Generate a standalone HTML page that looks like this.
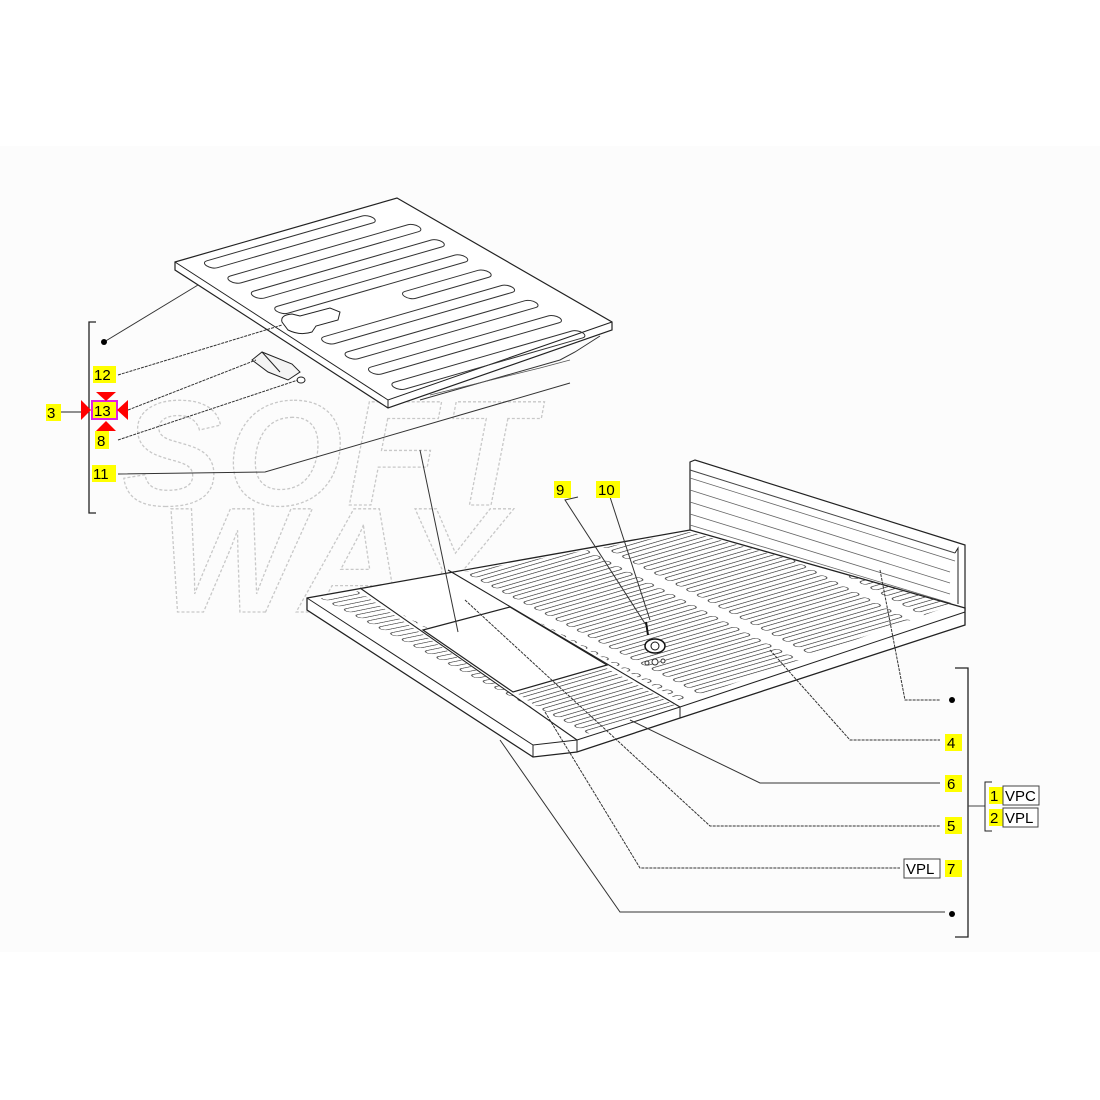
<!DOCTYPE html>
<html><head><meta charset="utf-8"><style>
html,body{margin:0;padding:0;background:#fff;}
svg{display:block;}
text{font-family:"Liberation Sans",sans-serif;}
</style></head><body>
<svg width="1100" height="1100" viewBox="0 0 1100 1100" xmlns="http://www.w3.org/2000/svg">
<defs>
<pattern id="slotStrip" width="400" height="13" patternUnits="userSpaceOnUse" patternTransform="matrix(0.98,-0.2,0.89,0.46,307,598)">
<rect x="10" y="3" width="36" height="7" rx="3.5" fill="none" stroke="#333" stroke-width="0.9"/>
</pattern>
<pattern id="slotMain" width="125" height="12" patternUnits="userSpaceOnUse" patternTransform="matrix(0.96,-0.28,0.89,0.46,448,570)">
<rect x="8" y="3" width="110" height="6.5" rx="3.2" fill="none" stroke="#333" stroke-width="0.9"/>
</pattern>
<clipPath id="mainC"><polygon points="452,574 690,532 955,604 682,702"/></clipPath>
<clipPath id="stripC"><polygon points="312,600 358,591 573,735 535,750"/></clipPath>
<clipPath id="midC"><polygon points="364,592 445,575 508,610 425,628"/></clipPath>
<clipPath id="frontC"><polygon points="517,693 606,668 676,706 580,736"/></clipPath>
</defs>
<rect x="0" y="146" width="1100" height="806" fill="#fcfcfc"/>

<!-- watermark -->
<g fill="none" stroke="#c8c8c8" stroke-width="1.3" stroke-dasharray="3 2" font-weight="bold" font-style="italic" font-size="150">
<text x="122" y="505" letter-spacing="4">SOFT</text>
<text x="160" y="612" letter-spacing="6">WAY</text>
</g>

<!-- lid -->
<polygon points="175,262 397,198 612,322 612,330 388,408 175,270" fill="#fff" stroke="#222" stroke-width="1.2"/>
<polyline points="175,262 388,400 612,322" fill="none" stroke="#222" stroke-width="1"/>
<line x1="388" y1="400" x2="388" y2="408" stroke="#222"/>
<path d="M420,400 L560,360 L575,352 L600,336" fill="none" stroke="#333" stroke-width="1"/>
<path d="M430,395 L540,368 L570,360" fill="none" stroke="#555" stroke-width="0.8"/>
<g transform="matrix(2.22,-0.64,2.13,1.38,175,262)" fill="none" stroke="#333" stroke-width="1">
<rect x="8" y="4" width="75" height="5" rx="2.5" vector-effect="non-scaling-stroke"/>
<rect x="8" y="15" width="85" height="5" rx="2.5" vector-effect="non-scaling-stroke"/>
<rect x="8" y="26" width="85" height="5" rx="2.5" vector-effect="non-scaling-stroke"/>
<rect x="8" y="37" width="85" height="5" rx="2.5" vector-effect="non-scaling-stroke"/>
<rect x="55" y="48" width="38" height="5" rx="2.5" vector-effect="non-scaling-stroke"/>
<rect x="8" y="59" width="85" height="5" rx="2.5" vector-effect="non-scaling-stroke"/>
<rect x="8" y="70" width="85" height="5" rx="2.5" vector-effect="non-scaling-stroke"/>
<rect x="8" y="81" width="85" height="5" rx="2.5" vector-effect="non-scaling-stroke"/>
<rect x="8" y="92" width="85" height="5" rx="2.5" vector-effect="non-scaling-stroke"/>
</g>
<path d="M282,322 Q280,315 292,314 L300,316 L330,308 L340,312 L338,320 L316,326 L312,332 Q300,336 288,330 Z" fill="#fff" stroke="#222" stroke-width="1"/>
<path d="M252,360 L262,352 L292,364 L300,372 L288,380 L268,372 Z" fill="#f4f4f4" stroke="#222" stroke-width="1"/>
<line x1="262" y1="352" x2="280" y2="372" stroke="#222"/>
<ellipse cx="301" cy="380" rx="4" ry="3" fill="#fff" stroke="#222"/>

<!-- wall -->
<polygon points="690,462 695,460 965,545 965,610 950,606 690,535" fill="#fff" stroke="#222" stroke-width="1.2"/>
<line x1="690" y1="470" x2="955" y2="553" stroke="#444"/>
<line x1="690" y1="478" x2="955" y2="561" stroke="#666" stroke-width="0.8"/>
<line x1="690" y1="490" x2="950" y2="572" stroke="#666" stroke-width="0.8"/>
<line x1="690" y1="502" x2="950" y2="583" stroke="#666" stroke-width="0.8"/>
<line x1="690" y1="514" x2="950" y2="594" stroke="#666" stroke-width="0.8"/>
<line x1="690" y1="525" x2="950" y2="603" stroke="#666" stroke-width="0.8"/>
<polyline points="955,553 958,548 958,604" fill="none" stroke="#222"/>

<!-- floor slab -->
<polygon points="307,598 690,530 965,608 965,625 680,718 577,752 533,757 307,610" fill="#fff" stroke="#222" stroke-width="1.3"/>
<polyline points="307,598 533,745 577,740 680,707 965,612" fill="none" stroke="#222" stroke-width="1"/>
<line x1="533" y1="745" x2="533" y2="757" stroke="#222"/>
<line x1="577" y1="740" x2="577" y2="752" stroke="#222"/>
<line x1="680" y1="707" x2="680" y2="718" stroke="#222"/>
<rect x="0" y="0" width="1100" height="1100" fill="url(#slotMain)" clip-path="url(#mainC)"/>
<rect x="0" y="0" width="1100" height="1100" fill="url(#slotStrip)" clip-path="url(#stripC)"/>
<rect x="0" y="0" width="1100" height="1100" fill="url(#slotStrip)" clip-path="url(#midC)"/>
<rect x="0" y="0" width="1100" height="1100" fill="url(#slotMain)" clip-path="url(#frontC)"/>
<!-- hole -->
<polygon points="423,630 510,607 607,665 513,692" fill="#fff" stroke="#222" stroke-width="1.2"/>
<line x1="360" y1="588" x2="577" y2="740" stroke="#222" stroke-width="1.1"/>
<line x1="448" y1="570" x2="680" y2="707" stroke="#222" stroke-width="1.1"/>
<!-- fitting -->
<line x1="646" y1="622" x2="648" y2="635" stroke="#111" stroke-width="2"/>
<ellipse cx="655" cy="646" rx="10" ry="7" fill="#fff" stroke="#111" stroke-width="1.5"/>
<circle cx="655" cy="646" r="4" fill="#fff" stroke="#111"/>
<circle cx="655" cy="662" r="3" fill="#fff" stroke="#333"/>
<circle cx="647" cy="663" r="2" fill="#fff" stroke="#333"/>
<circle cx="663" cy="661" r="2" fill="#fff" stroke="#333"/>

<!-- leader lines -->
<g fill="none" stroke="#333" stroke-width="1">
<line x1="104" y1="342" x2="198" y2="285"/>
<line x1="118" y1="375" x2="282" y2="325" stroke-dasharray="3 1"/>
<line x1="128" y1="410" x2="256" y2="360" stroke-dasharray="3 1"/>
<line x1="118" y1="440" x2="298" y2="380" stroke-dasharray="3 1"/>
<polyline points="118,474 265,472 570,383"/>
<polyline points="420,450 458,632"/>
<polyline points="578,497 565,500 646,625"/>
<polyline points="598,492 610,497 650,620"/>
<polyline points="880,570 905,700 940,700" stroke-dasharray="3 1"/>
<polyline points="770,650 850,740 940,740" stroke-dasharray="3 1"/>
<polyline points="630,720 760,783 940,783"/>
<polyline points="465,600 710,826 940,826" stroke-dasharray="3 1"/>
<polyline points="545,712 640,868 900,868" stroke-dasharray="3 1"/>
<polyline points="500,740 620,912 945,912"/>
</g>

<polyline points="96,322 89,322 89,513 96,513" fill="none" stroke="#222" stroke-width="1.3"/>
<line x1="60" y1="412" x2="83" y2="412" stroke="#222"/>
<circle cx="104" cy="342" r="3" fill="#000"/>
<polyline points="955,668 968,668 968,937 955,937" fill="none" stroke="#222" stroke-width="1.3"/>
<line x1="968" y1="806" x2="985" y2="806" stroke="#444"/>
<polyline points="992,782 985,782 985,831 992,831" fill="none" stroke="#222"/>
<circle cx="952" cy="700" r="3" fill="#000"/>
<circle cx="952" cy="914" r="3" fill="#000"/>

<g fill="#ffff00">
<rect x="93" y="366" width="23" height="17"/>
<rect x="93" y="402" width="24" height="17"/>
<rect x="46" y="404" width="15" height="17"/>
<rect x="95" y="431" width="14" height="18"/>
<rect x="92" y="465" width="24" height="17"/>
<rect x="554" y="481" width="17" height="17"/>
<rect x="596" y="481" width="24" height="17"/>
<rect x="945" y="734" width="17" height="17"/>
<rect x="945" y="775" width="17" height="17"/>
<rect x="945" y="817" width="17" height="17"/>
<rect x="945" y="860" width="17" height="17"/>
<rect x="989" y="787" width="14" height="17"/>
<rect x="989" y="809" width="14" height="17"/>
</g>
<rect x="92" y="401" width="25" height="18" fill="none" stroke="#e020e0" stroke-width="2"/>
<g fill="#ff0000">
<polygon points="81,400 81,420 91,410"/>
<polygon points="128,400 128,420 117,410"/>
<polygon points="96,392 116,392 106,401"/>
<polygon points="96,431 116,431 106,421"/>
</g>
<g font-size="15" fill="#000">
<text x="94" y="380">12</text>
<text x="94" y="416">13</text>
<text x="47" y="418">3</text>
<text x="97" y="446">8</text>
<text x="93" y="479">11</text>
<text x="556" y="495">9</text>
<text x="598" y="495">10</text>
<text x="947" y="748">4</text>
<text x="947" y="789">6</text>
<text x="947" y="831">5</text>
<text x="947" y="874">7</text>
<text x="990" y="801">1</text>
<text x="990" y="823">2</text>
</g>
<g fill="#fff" stroke="#444" stroke-width="1">
<rect x="1003" y="786" width="36" height="19"/>
<rect x="1003" y="808" width="35" height="19"/>
<rect x="904" y="859" width="36" height="19"/>
</g>
<g font-size="15" fill="#000">
<text x="1005" y="801">VPC</text>
<text x="1005" y="823">VPL</text>
<text x="906" y="874">VPL</text>
</g>
</svg>
</body></html>
